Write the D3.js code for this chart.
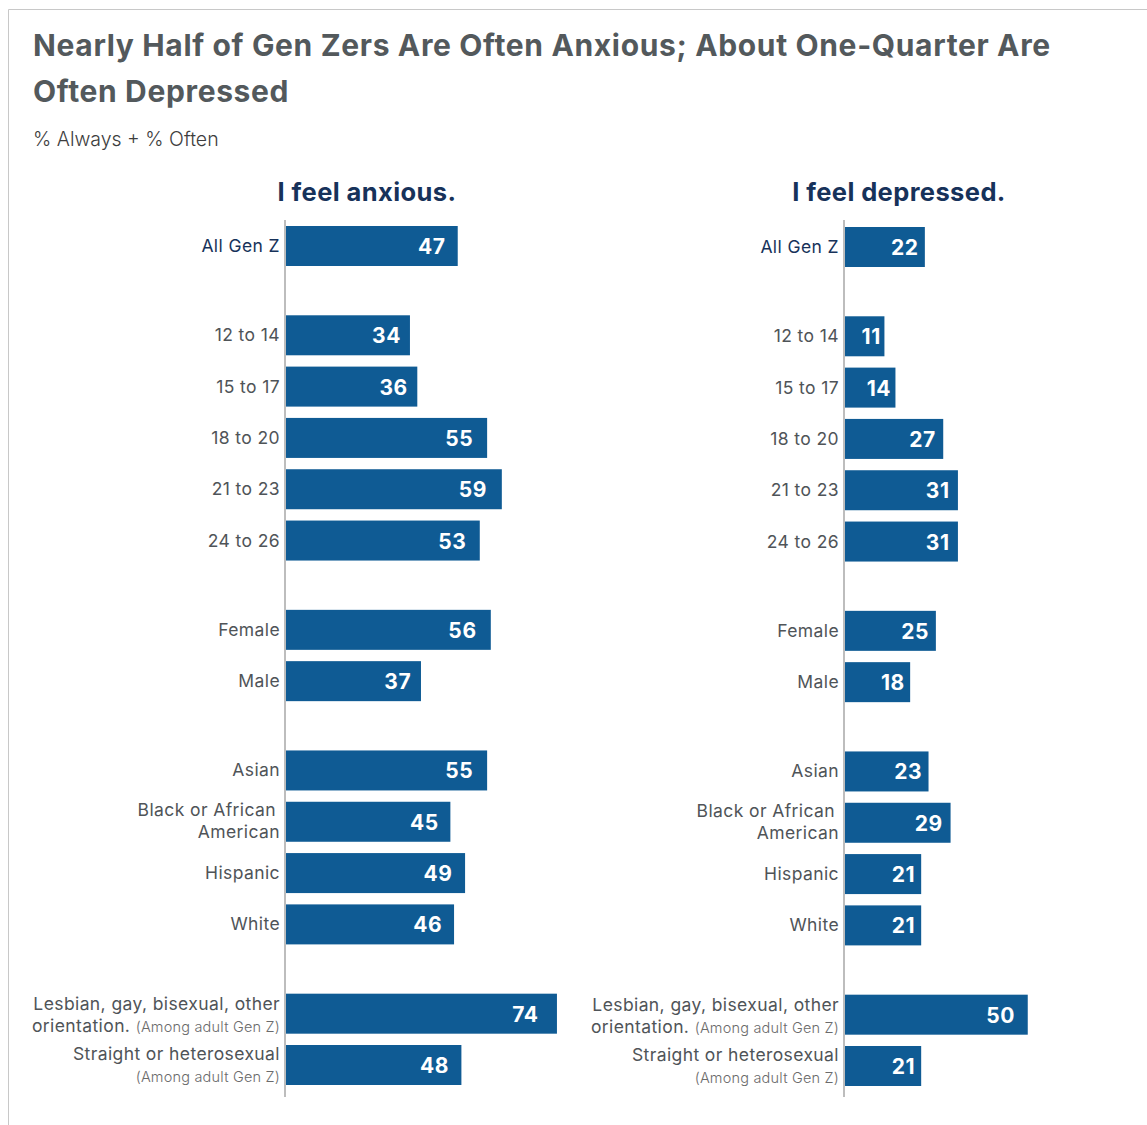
<!DOCTYPE html>
<html>
<head>
<meta charset="utf-8">
<script src="https://cdn.jsdelivr.net/npm/d3@7"></script>
<style>
  html, body { margin: 0; padding: 0; background: #fff; }
  svg text { font-family: Inter, "Noto Sans", sans-serif; }
</style>
</head>
<body>
<svg id="chart" width="1147" height="1125"></svg>
<script>
// ---- Data ----
const categories = [
  "All Gen Z",
  "12 to 14", "15 to 17", "18 to 20", "21 to 23", "24 to 26",
  "Female", "Male",
  "Asian", "Black or African American", "Hispanic", "White",
  "Lesbian, gay, bisexual, other orientation.", "Straight or heterosexual"
];
const groups = [0, 1, 1, 1, 1, 1, 2, 2, 3, 3, 3, 3, 4, 4];
const anxious   = [47, 34, 36, 55, 59, 53, 56, 37, 55, 45, 49, 46, 74, 48];
const depressed = [22, 11, 14, 27, 31, 31, 25, 18, 23, 29, 21, 21, 50, 21];
const panelTitles = ["I feel anxious.", "I feel depressed."];
const title = ["Nearly Half of Gen Zers Are Often Anxious; About One-Quarter Are", "Often Depressed"];
const subtitle = "% Always + % Often";
const adultNote = "(Among adult Gen Z)";

// ---- Layout ----
const svg = d3.select("#chart");
const W = 1147, H = 1125;
const barColor = "#0f5b94";
const labelColor = "#4f5458";
const navy = "#17325a";

// frame
svg.append("line").attr("x1", 8.5).attr("x2", W).attr("y1", 9.5).attr("y2", 9.5).attr("stroke", "#c8c8c8");
svg.append("line").attr("x1", 8.5).attr("x2", 8.5).attr("y1", 9.5).attr("y2", H).attr("stroke", "#c8c8c8");

// titles
svg.append("text").attr("x", 33).attr("y", 56).attr("font-size", 30).attr("font-weight", 700)
  .attr("letter-spacing", 0.65).attr("fill", "#53595c").text(title[0]);
svg.append("text").attr("x", 33).attr("y", 102).attr("font-size", 30).attr("font-weight", 700)
  .attr("letter-spacing", 0.65).attr("fill", "#53595c").text(title[1]);
svg.append("text").attr("x", 33).attr("y", 146).attr("font-size", 19.5).attr("font-weight", 300)
  .attr("fill", "#3d3d3d").text(subtitle);

// row positions: row index plus extra gap per group
const slot = categories.map((c, i) => i + groups[i] * 0.74);
const y = d3.scaleLinear().domain([0, d3.max(slot)]).range([246, 1065]);
const barH = 40;

const pxPerUnit = 3.675;
const panels = [
  { x0: 285, values: anxious, title: panelTitles[0], titleX: 367 },
  { x0: 844, values: depressed, title: panelTitles[1], titleX: 899 }
];

panels.forEach((p, pi) => {
  const x = d3.scaleLinear().domain([0, 100]).range([p.x0, p.x0 + 100 * pxPerUnit]);
  const g = svg.append("g");
  const dy = pi === 1 ? 1 : 0;

  g.append("text").attr("x", p.titleX).attr("y", 201).attr("text-anchor", "middle")
    .attr("font-size", 25.5).attr("font-weight", 700).attr("letter-spacing", 0.4)
    .attr("fill", navy).text(p.title);

  // bars
  g.selectAll("rect.bar").data(p.values).join("rect")
    .attr("class", "bar")
    .attr("x", x(0))
    .attr("y", (d, i) => y(slot[i]) - barH / 2 + dy)
    .attr("width", d => x(d) - x(0))
    .attr("height", barH)
    .attr("fill", barColor);

  // axis line
  g.append("line").attr("x1", x(0)).attr("x2", x(0)).attr("y1", 220).attr("y2", 1097)
    .attr("stroke", "#bdbdbd").attr("stroke-width", 2);

  // value labels
  g.selectAll("text.val").data(p.values).join("text")
    .attr("class", "val")
    .attr("x", d => x(d) - 1 - 0.235 * d)
    .attr("y", (d, i) => y(slot[i]) + 8 + dy)
    .attr("text-anchor", "end")
    .attr("font-size", 21).attr("font-weight", 700).attr("letter-spacing", 0.6).attr("fill", "#fff")
    .text(d => d);

  // category labels
  const lx = x(0) - 5;
  categories.forEach((c, i) => {
    const cy = y(slot[i]) + dy;
    const t = g.append("text").attr("text-anchor", "end").attr("font-size", 17.5)
      .attr("letter-spacing", 0.4)
      .attr("fill", i === 0 ? navy : labelColor);
    if (c === "Black or African American") {
      t.append("tspan").attr("x", lx - 4).attr("y", cy - 6).text("Black or African");
      t.append("tspan").attr("x", lx).attr("y", cy + 16).text("American");
    } else if (i === 12) {
      t.append("tspan").attr("x", lx).attr("y", cy - 4).text("Lesbian, gay, bisexual, other");
      const t2 = t.append("tspan").attr("x", lx).attr("y", cy + 18);
      t2.append("tspan").text("orientation. ");
      t2.append("tspan").attr("font-size", 14.5).attr("font-weight", 300).attr("letter-spacing", 0.2)
        .attr("fill", "#6b6b6b").text(adultNote);
    } else if (i === 13) {
      t.append("tspan").attr("x", lx).attr("y", cy - 5).text(c);
      t.append("tspan").attr("x", lx).attr("y", cy + 17).attr("font-size", 14.5)
        .attr("font-weight", 300).attr("letter-spacing", 0.2).attr("fill", "#6b6b6b").text(adultNote);
    } else {
      t.attr("x", lx).attr("y", cy + 6).text(c);
    }
  });
});
</script>
</body>
</html>
